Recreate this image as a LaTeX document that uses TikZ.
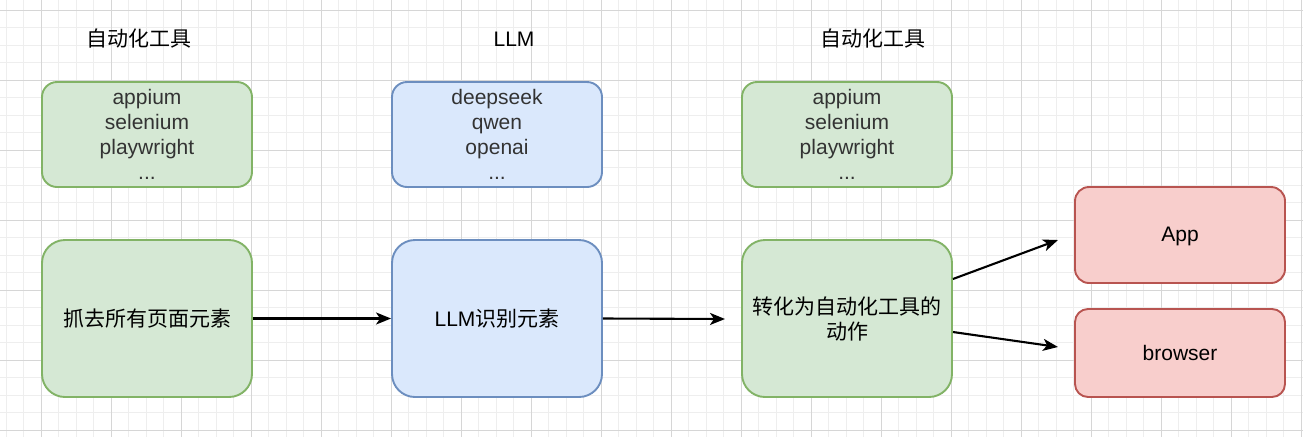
\documentclass[tikz,border=0pt]{standalone}
\usepackage{fontspec}
\setmainfont{Liberation Sans}
\newfontfamily\cjk{Noto Sans CJK SC}
\usetikzlibrary{arrows.meta}
\definecolor{gfill}{HTML}{D5E8D4}
\definecolor{gdraw}{HTML}{82B366}
\definecolor{bfill}{HTML}{DAE8FC}
\definecolor{bdraw}{HTML}{6C8EBF}
\definecolor{rfill}{HTML}{F8CECC}
\definecolor{rdraw}{HTML}{B85450}
\definecolor{minorgrid}{HTML}{EEEEEE}
\definecolor{majorgrid}{HTML}{D6D6D6}
\definecolor{subtext}{HTML}{333333}
\tikzset{
  box/.style={rectangle, line width=1.9pt, minimum width=210pt, inner sep=0pt, align=center,
    font=\fontsize{21}{25}\selectfont},
  greenbox/.style={box, fill=gfill, draw=gdraw},
  bluebox/.style={box, fill=bfill, draw=bdraw},
  redbox/.style={box, fill=rfill, draw=rdraw},
  title/.style={font=\cjk\fontsize{21}{25}\selectfont, inner sep=0pt},
  conn/.style={line width=2.1pt, -{Stealth[length=15pt,width=12pt,inset=4pt]}},
}
\begin{document}
\begin{tikzpicture}[x=1pt,y=-1pt]
\useasboundingbox (0,0) rectangle (1303,437);
\fill[white] (0,0) rectangle (1303,437);
\foreach \k in {0,...,74} \draw[minorgrid, line width=1pt] ({6+17.5*\k},0) -- ({6+17.5*\k},437);
\foreach \k in {0,...,24} \draw[minorgrid, line width=1pt] (0,{10+17.5*\k}) -- (1303,{10+17.5*\k});
\foreach \k in {0,...,18} \draw[majorgrid, line width=1pt] ({41+70*\k},0) -- ({41+70*\k},437);
\foreach \k in {0,...,6} \draw[majorgrid, line width=1pt] (0,{10+70*\k}) -- (1303,{10+70*\k});

\node[title] (t1) at (139,39) {自动化工具};
\node[title, font=\fontsize{21}{25}\selectfont] (t2) at (514,39) {LLM};
\node[title] (t3) at (873,39) {自动化工具};

\node[greenbox, minimum height=105pt, rounded corners=15pt, text=subtext] (g1) at (147,134.5) {appium\\selenium\\playwright\\...};
\node[bluebox, minimum height=105pt, rounded corners=15pt, text=subtext] (b1) at (497,134.5) {deepseek\\qwen\\openai\\...};
\node[greenbox, minimum height=105pt, rounded corners=15pt, text=subtext] (g2) at (847,134.5) {appium\\selenium\\playwright\\...};

\node[greenbox, minimum height=157pt, rounded corners=23pt] (gb1) at (147,318.5) {{\cjk 抓去所有页面元素}};
\node[bluebox, minimum height=157pt, rounded corners=23pt] (bb1) at (497,318.5) {LLM{\cjk 识别元素}};
\node[greenbox, minimum height=157pt, rounded corners=23pt] (gb2) at (847,318.5) {{\cjk 转化为自动化工具的}\\{\cjk 动作}};

\node[redbox, minimum height=96pt, rounded corners=14pt, text depth=2pt] (app) at (1180,235) {App};
\node[redbox, minimum height=88pt, rounded corners=13pt] (br) at (1180,353) {browser};

\coordinate (e2) at (725,319);
\coordinate (e3) at (1058,240);
\coordinate (e4) at (1058,347);

\draw[conn] (gb1.east) -- (bb1.west);
\draw[conn] (bb1.east) -- (e2);
\draw[conn] ([yshift=39.5pt]gb2.east) -- (e3);
\draw[conn] ([yshift=-13.5pt]gb2.east) -- (e4);
\end{tikzpicture}
\end{document}
